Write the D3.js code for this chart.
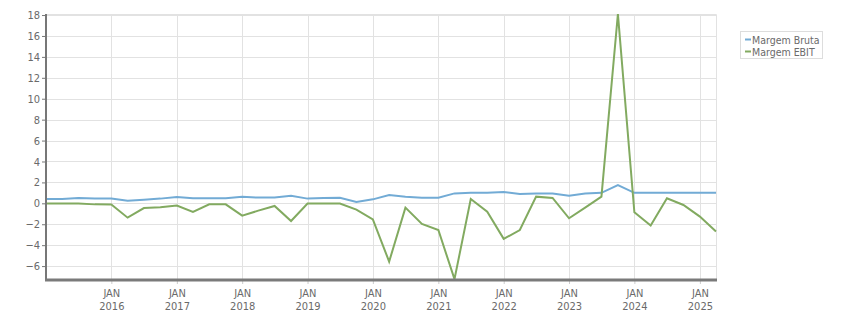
<!DOCTYPE html>
<html>
<head>
<meta charset="utf-8">
<script src="https://cdn.jsdelivr.net/npm/d3@7"></script>
<style>
  body { margin: 0; background: #fff; }
  text { font-family: Tahoma, "DejaVu Sans Condensed", "Liberation Sans", sans-serif; }
</style>
</head>
<body>
<div id="container"></div>
<script>
'use strict'
// quarterly dates, Jan 2015 .. Apr 2025
const quarters = ["2015-01","2015-04","2015-07","2015-10","2016-01","2016-04","2016-07","2016-10",
  "2017-01","2017-04","2017-07","2017-10","2018-01","2018-04","2018-07","2018-10",
  "2019-01","2019-04","2019-07","2019-10","2020-01","2020-04","2020-07","2020-10",
  "2021-01","2021-04","2021-07","2021-10","2022-01","2022-04","2022-07","2022-10",
  "2023-01","2023-04","2023-07","2023-10","2024-01","2024-04","2024-07","2024-10",
  "2025-01","2025-04"];
const margemBruta = [0.42,0.42,0.5,0.45,0.45,0.25,0.35,0.45,
  0.6,0.48,0.48,0.48,0.62,0.55,0.55,0.72,
  0.45,0.5,0.54,0.13,0.38,0.8,0.64,0.54,
  0.54,0.95,1.0,1.0,1.08,0.9,0.95,0.95,
  0.73,0.95,1.0,1.75,1.0,1.0,1.0,1.0,
  1.0,1.0];
const margemEbit = [-0.02,-0.02,-0.02,-0.1,-0.12,-1.37,-0.45,-0.38,
  -0.22,-0.83,-0.1,-0.1,-1.18,-0.7,-0.25,-1.69,
  -0.02,-0.02,-0.02,-0.6,-1.53,-5.57,-0.41,-1.97,
  -2.55,-7.25,0.41,-0.8,-3.4,-2.55,0.64,0.51,
  -1.43,-0.41,0.64,18.1,-0.86,-2.13,0.48,-0.16,
  -1.27,-2.7];
const seriesNames = ["Margem Bruta","Margem EBIT"];
const seriesColors = ["#72abd5","#82aa60"];
const yTicks = [-6,-4,-2,0,2,4,6,8,10,12,14,16,18];
const yearTicks = [2016,2017,2018,2019,2020,2021,2022,2023,2024,2025];

const w = 851;
const h = 313;
const pLeft = 46, pRight = 716, pTop = 14, pBottom = 280;

const svg = d3.select("#container")
              .append("svg")
              .attr("width", w)
              .attr("height", h);

const parse = d3.timeParse("%Y-%m");
const dates = quarters.map(parse);

//Scales
const xScale = d3.scaleTime()
                 .domain([dates[0], dates[dates.length - 1]])
                 .range([pLeft, pRight]);
const yScale = d3.scaleLinear()
                 .domain([-7.33, 18.1])
                 .range([pBottom, pTop]);
const yearDates = yearTicks.map(y => new Date(y, 0, 1));

//Grid
svg.append("g").selectAll("line")
   .data(yTicks).enter().append("line")
   .attr("x1", pLeft).attr("x2", pRight)
   .attr("y1", d => Math.round(yScale(d)) + 0.5).attr("y2", d => Math.round(yScale(d)) + 0.5)
   .attr("stroke", "#e2e2e2").attr("stroke-width", 1);
svg.append("g").selectAll("line")
   .data(yearDates).enter().append("line")
   .attr("x1", d => Math.round(xScale(d)) + 0.5).attr("x2", d => Math.round(xScale(d)) + 0.5)
   .attr("y1", pTop).attr("y2", pBottom)
   .attr("stroke", "#e2e2e2").attr("stroke-width", 1);
// plot border top / right
svg.append("path")
   .attr("d", `M${pLeft},${pTop + 0.5}H${pRight + 0.5}V${pBottom}`)
   .attr("fill", "none").attr("stroke", "#e2e2e2");

//Lines
svg.append("clipPath").attr("id", "clip")
   .append("rect").attr("x", pLeft).attr("y", pTop).attr("width", pRight - pLeft + 1).attr("height", pBottom - pTop);

const line = d3.line()
               .x((d, i) => xScale(dates[i]))
               .y(d => yScale(d));
[margemBruta, margemEbit].forEach((s, k) => {
  svg.append("path")
     .datum(s)
     .attr("clip-path", "url(#clip)")
     .attr("fill", "none")
     .attr("stroke", seriesColors[k])
     .attr("stroke-width", 2)
     .attr("d", line);
});

//Axes
const yAxis = d3.axisLeft(yScale).tickValues(yTicks).tickSize(4).tickPadding(2);
const gy = svg.append("g").attr("transform", "translate(" + pLeft + ",0)").call(yAxis);
gy.select(".domain").remove();
gy.selectAll("line").attr("stroke", "#777");
gy.selectAll("text").attr("fill", "#6a6a6a").style("font-size", "11px");
svg.append("line")
   .attr("x1", pLeft).attr("x2", pLeft).attr("y1", pTop).attr("y2", pBottom)
   .attr("stroke", "#777").attr("stroke-width", 2);

const xAxis = d3.axisBottom(xScale).tickValues(yearDates).tickSize(4).tickFormat("");
const gx = svg.append("g").attr("transform", "translate(0," + pBottom + ")").call(xAxis);
gx.select(".domain").remove();
gx.selectAll("line").attr("stroke", "#ccc");
gx.selectAll(".tick").each(function(d) {
  const t = d3.select(this);
  t.append("text").text("JAN").attr("y", 17).attr("fill", "#6a6a6a")
   .attr("text-anchor", "middle").style("font-size", "11px");
  t.append("text").text(d.getFullYear()).attr("y", 30).attr("fill", "#6a6a6a")
   .attr("text-anchor", "middle").style("font-size", "11px");
});
svg.append("line")
   .attr("x1", pLeft - 1).attr("x2", pRight + 1).attr("y1", pBottom).attr("y2", pBottom)
   .attr("stroke", "#7a7a7a").attr("stroke-width", 3);

//Legend
const lg = svg.append("g").attr("transform", "translate(740,31)");
lg.append("rect").attr("x", 0.5).attr("y", 0.5).attr("width", 82).attr("height", 27)
  .attr("fill", "#fff").attr("stroke", "#ddd");
seriesNames.forEach((n, k) => {
  lg.append("line").attr("x1", 5).attr("x2", 11)
    .attr("y1", 8.5 + k * 12).attr("y2", 8.5 + k * 12)
    .attr("stroke", seriesColors[k]).attr("stroke-width", 2);
  lg.append("text").text(n).attr("x", 12).attr("y", 12.5 + k * 12)
    .attr("fill", "#6a6a6a").style("font-size", "10.5px");
});
</script>
</body>
</html>
